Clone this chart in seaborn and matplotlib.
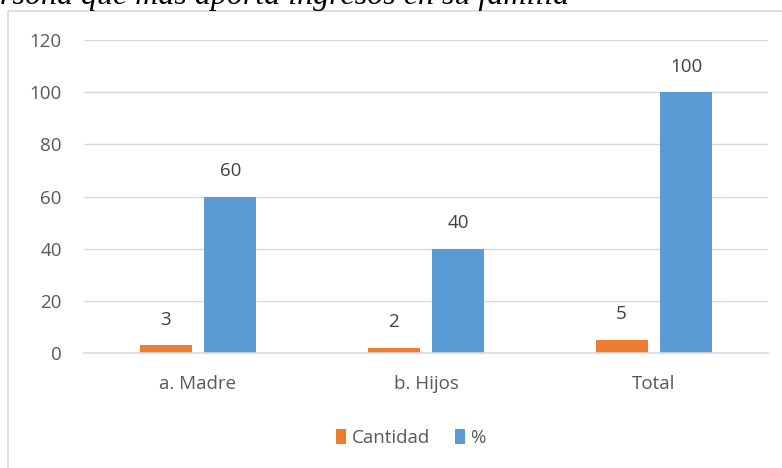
import pandas as pd
import matplotlib.pyplot as plt
import seaborn as sns
from matplotlib.patches import Patch, Rectangle

# Données
categorias = ['a. Madre', 'b. Hijos', 'Total']
cantidad = [3, 2, 5]
porcentaje = [60, 40, 100]
series = ['Cantidad', '%']
colores = ['#ED7D31', '#5B9BD5']
titulo = 'rsona que más aporta ingresos en su familia'

df = pd.DataFrame({
    'categoria': categorias * 2,
    'valor': cantidad + porcentaje,
    'serie': [series[0]] * 3 + [series[1]] * 3,
})

sns.set_style('white')
plt.rcParams['font.family'] = ['Open Sans', 'DejaVu Sans']

fig = plt.figure(figsize=(7.82, 4.68), dpi=100)
ax = fig.add_axes([84 / 782, 1 - 353 / 468, (768 - 84) / 782, (353 - 40) / 468])

# Cadre du graphique (dépasse à droite et en bas)
fig.patches.append(Rectangle((8 / 782, -0.2), 1.2, 0.2 + 1 - 11 / 468,
                             transform=fig.transFigure, fill=False,
                             edgecolor='#d9d9d9', linewidth=1.2, zorder=0))

sns.barplot(data=df, x='categoria', y='valor', hue='serie', palette=colores,
            width=0.57, gap=0.2, saturation=1, linewidth=0, ax=ax, legend=False)

for cont in ax.containers:
    ax.bar_label(cont, padding=12, fontsize=13.5, color='#404040')

ax.set_ylim(0, 120)
ax.set_yticks(range(0, 121, 20))
ax.set_xlim(-0.5, 2.5)
ax.set_xlabel('')
ax.set_ylabel('')
ax.yaxis.grid(True, color='#d9d9d9', linewidth=1)
ax.set_axisbelow(True)
for s in ['left', 'right', 'top']:
    ax.spines[s].set_visible(False)
ax.spines['bottom'].set_color('#d9d9d9')
ax.spines['bottom'].set_linewidth(1.2)
ax.tick_params(axis='y', length=0, pad=16, labelsize=13.5, labelcolor='#595959')
ax.tick_params(axis='x', length=0, pad=16, labelsize=13.5, labelcolor='#595959')

# Légende
handles = [Patch(facecolor=c, edgecolor='none') for c in colores]
fig.legend(handles, series, loc='center', bbox_to_anchor=(411 / 782, 1 - 438 / 468),
           ncol=2, frameon=False, fontsize=13.5, labelcolor='#595959',
           handlelength=0.55, handleheight=0.9, handletextpad=0.3, columnspacing=1.3)

# Titre coupé en haut
fig.text(0, 1 - 4 / 468, titulo, ha='left', va='baseline', fontsize=23,
         style='italic', family=['Liberation Serif', 'DejaVu Serif'], color='black')

fig.savefig('out.png', dpi=100)
